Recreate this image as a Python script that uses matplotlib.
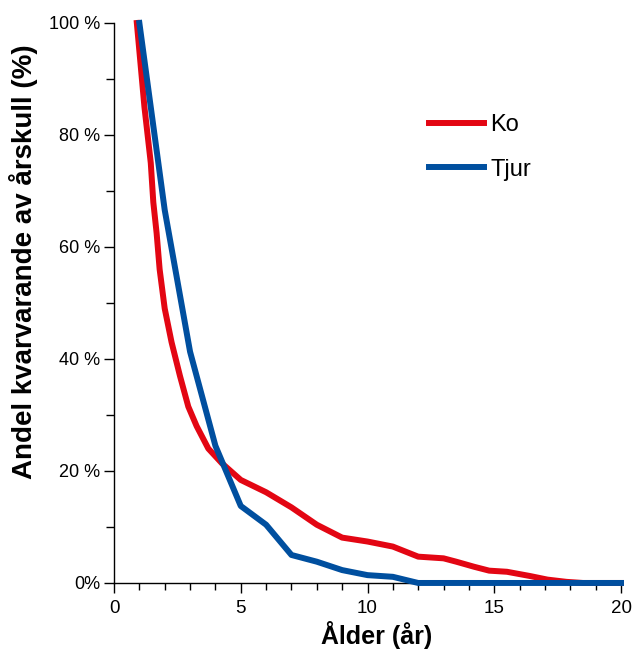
import numpy as np
import matplotlib
matplotlib.use("Agg")
from matplotlib import pyplot as plt
from matplotlib.ticker import MultipleLocator, FuncFormatter

plt.rcParams['font.family'] = ['Liberation Sans', 'DejaVu Sans']

# Ko (cows) - share remaining of year class
ko_age = [0.9, 1.2, 1.45, 1.55, 1.68, 1.8, 2.0, 2.27, 2.6, 2.93, 3.26, 3.72,
          4.25, 5.0, 6.0, 7.0, 8.0, 9.0, 10.0, 11.0, 12.0, 13.0, 13.5, 14.2,
          14.8, 15.5, 16.4, 17.1, 17.85, 18.5, 20.0]
ko_pct = [100, 85, 75, 68, 62.5, 56, 49, 43, 37, 31.5, 28, 24,
          21.4, 18.4, 16.2, 13.5, 10.4, 8.1, 7.4, 6.5, 4.7, 4.4, 3.8, 2.9,
          2.2, 2.0, 1.25, 0.6, 0.2, 0, 0]

# Tjur (bulls)
tjur_age = [1, 2, 3, 4, 5, 6, 7, 8, 9, 10, 11, 12, 13, 14, 15, 16, 17, 18, 19, 20]
tjur_pct = [100, 66.6, 41.3, 24.5, 13.75, 10.4, 5.0, 3.8, 2.3, 1.4, 1.1, 0,
            0, 0, 0, 0, 0, 0, 0, 0]

red = "#e30613"
blue = "#004f9f"

fig = plt.figure(figsize=(6.32, 6.51), dpi=100)
ax = fig.add_axes([0.1804, 0.1045, 0.8022, 0.8602])

ax.plot(ko_age, ko_pct, color=red, lw=4.3, label="Ko", clip_on=False,
        solid_joinstyle="round", zorder=3)
ax.plot(tjur_age, tjur_pct, color=blue, lw=4.3, label="Tjur", clip_on=False,
        solid_joinstyle="round", zorder=4)

ax.set_xlim(0, 20)
ax.set_ylim(0, 100)

ax.spines['top'].set_visible(False)
ax.spines['right'].set_visible(False)
for s in ['left', 'bottom']:
    ax.spines[s].set_linewidth(1.0)

ax.xaxis.set_major_locator(MultipleLocator(5))
ax.xaxis.set_minor_locator(MultipleLocator(1))
ax.yaxis.set_major_locator(MultipleLocator(20))
ax.yaxis.set_minor_locator(MultipleLocator(10))
ax.yaxis.set_major_formatter(FuncFormatter(lambda v, p: "0%" if v == 0 else f"{v:.0f} %"))

ax.tick_params(axis='both', which='both', direction='out', width=1.0)
ax.tick_params(axis='x', which='major', length=7, labelsize=13.5, pad=5)
ax.tick_params(axis='x', which='minor', length=5)
ax.tick_params(axis='y', which='major', length=7, labelsize=13, pad=3)
ax.tick_params(axis='y', which='minor', length=6)

ax.set_xlabel("Ålder (år)", fontsize=18, fontweight='bold')
ax.xaxis.set_label_coords(0.517, -0.068)
ax.set_ylabel("Andel kvarvarande av årskull (%)", fontsize=20, fontweight='bold')
ax.yaxis.set_label_coords(-0.15, 0.573)

ax.legend(frameon=False, fontsize=17, handlelength=2.33, labelspacing=0.96,
          handletextpad=0.28, borderpad=0, borderaxespad=0, loc='upper left',
          bbox_to_anchor=(429 / 632, 1 - 114 / 651), bbox_transform=fig.transFigure)

fig.savefig("out.png", dpi=100)
